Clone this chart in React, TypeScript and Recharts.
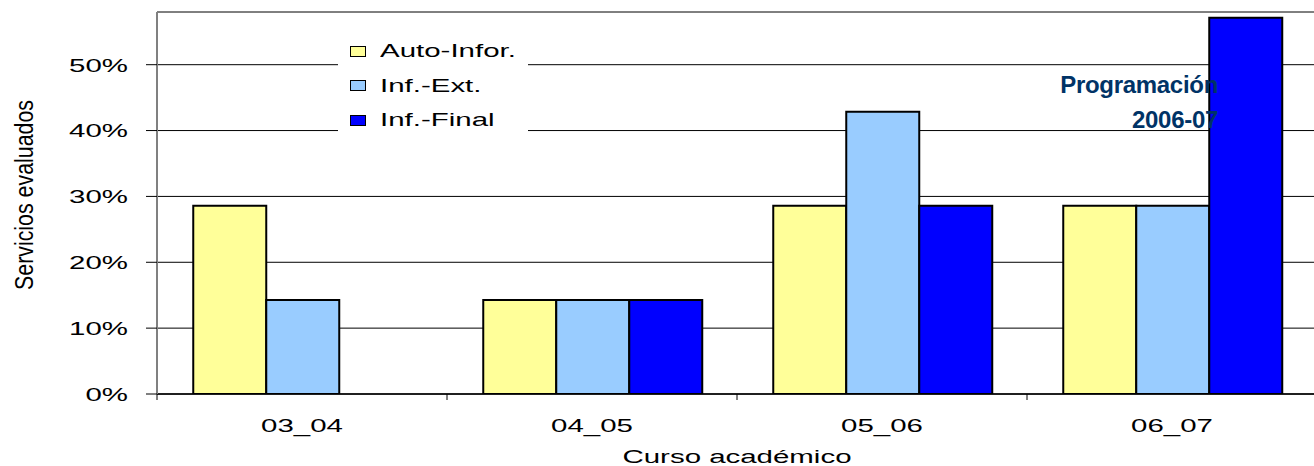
import { Bar, BarChart, CartesianGrid, Legend, XAxis, YAxis } from 'recharts';

const CURSOS = ['03_04', '04_05', '05_06', '06_07'];
const AUTO_INFOR = [0.2857, 0.1429, 0.2857, 0.2857];
const INF_EXT = [0.1429, 0.1429, 0.4286, 0.2857];
const INF_FINAL = [null, 0.1429, 0.2857, 0.5714];
const Y_TICKS = [0, 0.1, 0.2, 0.3, 0.4, 0.5];

const SERIES = [
  { key: 'auto', name: 'Auto-Infor.', color: '#FFFF99' },
  { key: 'ext', name: 'Inf.-Ext.', color: '#99CCFF' },
  { key: 'final', name: 'Inf.-Final', color: '#0000FF' },
];

const data = CURSOS.map((curso, i) => ({
  curso,
  auto: AUTO_INFOR[i],
  ext: INF_EXT[i],
  final: INF_FINAL[i],
}));

const FONT = '"Liberation Sans", Arial, sans-serif';
const STRETCH = 1.55;

function YTick({ x, y, payload }: any) {
  return (
    <text
      transform={`translate(${x},${y}) scale(${STRETCH},1)`}
      textAnchor="end"
      dy="0.36em"
      fontSize={19}
      fontFamily={FONT}
      fill="#000"
    >
      {Math.round(payload.value * 100)}%
    </text>
  );
}

function XTick({ x, y, payload }: any) {
  const half = payload.offset ?? 0;
  return (
    <g>
      <line x1={x - half} x2={x - half} y1={y - 6} y2={y} stroke="#000" strokeWidth={1} />
      <text
        transform={`translate(${x},${y + 32}) scale(${STRETCH},1)`}
        textAnchor="middle"
        fontSize={19}
        fontFamily={FONT}
        fill="#000"
      >
        {payload.value}
      </text>
    </g>
  );
}

function YLabel({ viewBox }: any) {
  const cy = (viewBox?.y ?? 12) + (viewBox?.height ?? 382) / 2 - 8;
  return (
    <text
      transform={`translate(33,${cy}) scale(${STRETCH},1) rotate(-90)`}
      textAnchor="middle"
      fontSize={17}
      fontFamily={FONT}
      textLength={190}
      lengthAdjust="spacingAndGlyphs"
      fill="#000"
    >
      Servicios evaluados
    </text>
  );
}

function XLabel({ viewBox }: any) {
  const cx = (viewBox?.x ?? 157) + (viewBox?.width ?? 1160) / 2;
  return (
    <text
      transform={`translate(${cx},463) scale(${STRETCH},1)`}
      textAnchor="middle"
      fontSize={19}
      fontFamily={FONT}
      fill="#000"
    >
      Curso académico
    </text>
  );
}

function LegendBox() {
  return (
    <div style={{ paddingTop: 2 }}>
      {SERIES.map((s) => (
        <div key={s.key} style={{ height: 34.5, display: 'flex', alignItems: 'center' }}>
          <span
            style={{
              display: 'inline-block',
              width: 14,
              height: 9,
              marginLeft: 12,
              background: s.color,
              border: '1px solid #000',
            }}
          />
          <span
            style={{
              display: 'inline-block',
              marginLeft: 14,
              fontFamily: FONT,
              fontSize: 19,
              color: '#000',
              transform: `scaleX(${STRETCH})`,
              transformOrigin: 'left center',
              whiteSpace: 'nowrap',
            }}
          >
            {s.name}
          </span>
        </div>
      ))}
    </div>
  );
}

export default function App() {
  return (
    <div
      style={{
        position: 'absolute',
        left: 0,
        top: 0,
        width: 1314,
        height: 466,
        overflow: 'hidden',
        background: '#fff',
      }}
    >
      <BarChart
        width={1330}
        height={466}
        data={data}
        margin={{ top: 12, right: 13, bottom: 32, left: 0 }}
        barCategoryGap="12.5%"
        barGap={0}
      >
        <CartesianGrid vertical={false} stroke="#000" strokeWidth={1} />
        <XAxis
          dataKey="curso"
          height={40}
          axisLine={{ stroke: '#000', strokeWidth: 1.5 }}
          tickLine={false}
          tickSize={6}
          tickMargin={0}
          tick={<XTick />}
          interval={0}
          label={<XLabel />}
        />
        <YAxis
          width={157}
          domain={[0, 0.58]}
          ticks={Y_TICKS}
          allowDataOverflow
          tickSize={11}
          tickMargin={18}
          tickLine={{ stroke: '#000' }}
          axisLine={{ stroke: '#808080', strokeWidth: 2 }}
          tick={<YTick />}
          label={<YLabel />}
        />
        <Legend
          layout="horizontal"
          align="center"
          verticalAlign="middle"
          content={<LegendBox />}
          wrapperStyle={{ left: 338, top: 32, width: 190, height: 108, background: '#fff' }}
        />
        {SERIES.map((s) => (
          <Bar
            key={s.key}
            dataKey={s.key}
            name={s.name}
            fill={s.color}
            stroke="#000"
            strokeWidth={2}
            isAnimationActive={false}
          />
        ))}
      </BarChart>
      <div
        style={{
          position: 'absolute',
          left: 1000,
          top: 67,
          width: 218,
          textAlign: 'right',
          fontFamily: FONT,
          fontWeight: 'bold',
          fontSize: 24,
          lineHeight: '35px',
          color: '#003366',
          letterSpacing: -0.3,
        }}
      >
        Programación
        <br />
        2006-07
      </div>
    </div>
  );
}
